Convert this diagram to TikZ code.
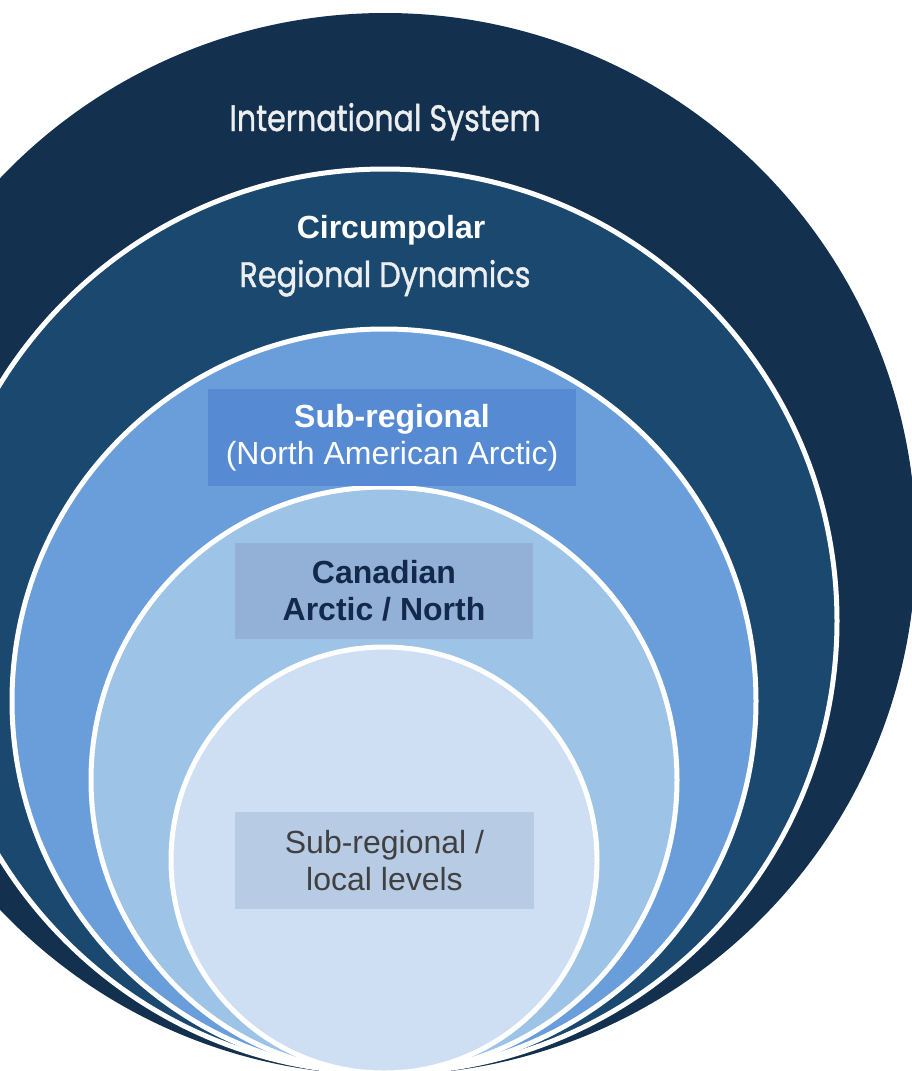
\documentclass[tikz,border=0pt]{standalone}
\usepackage{fontspec}
\setmainfont{Liberation Sans}
\newfontfamily\geo[FakeBold=1.2]{Poppins}
\usepackage{graphicx}
\definecolor{cA}{RGB}{19,48,78}
\definecolor{cB}{RGB}{26,72,110}
\definecolor{cC}{RGB}{106,158,219}
\definecolor{cD}{RGB}{157,195,230}
\definecolor{cE}{RGB}{207,223,243}
\definecolor{boxB}{RGB}{86,139,212}
\definecolor{boxC}{RGB}{147,177,214}
\definecolor{boxD}{RGB}{183,204,228}
\definecolor{txtC}{RGB}{19,41,75}
\definecolor{txtD}{RGB}{64,64,64}
\definecolor{geotxt}{RGB}{236,238,240}
\tikzset{
  ring/.style={draw=white, line width=5pt},
  labelbox/.style={rectangle, inner sep=0pt, align=center, font=\fontsize{32}{37}\selectfont},
  geolabel/.style={inner sep=0pt, text=geotxt, anchor=base},
}
\begin{document}
\begin{tikzpicture}[x=1pt,y=-1pt]
\useasboundingbox (0,0) rectangle (912,1071);
\clip (0,0) rectangle (912,1071);
\fill[cA] (385,544) circle[radius=531pt];
\filldraw[ring, fill=cB] (385,621) circle[radius=452pt];
\filldraw[ring, fill=cC] (384,701) circle[radius=372pt];
\filldraw[ring, fill=cD] (384,780) circle[radius=293pt];
\filldraw[ring, fill=cE] (384,860) circle[radius=213pt];
\node[geolabel] (intl) at (385,131) {\resizebox{311pt}{28pt}{\geo International System}};
\node[inner sep=0pt, text=white, font=\bfseries\fontsize{32}{37}\selectfont, anchor=base] (circ) at (391,238) {Circumpolar};
\node[geolabel] (regdyn) at (385,287) {\resizebox{291pt}{27pt}{\geo Regional Dynamics}};
\node[labelbox, fill=boxB, text=white, minimum width=368pt, minimum height=97pt] (subreg) at (392,437.5) {\textbf{Sub-regional}\\(North American Arctic)};
\node[labelbox, fill=boxC, text=txtC, font=\bfseries\fontsize{32}{37}\selectfont, minimum width=298pt, minimum height=96pt] (canada) at (384,591) {Canadian\\Arctic / North};
\node[labelbox, fill=boxD, text=txtD, minimum width=299pt, minimum height=97pt] (local) at (384.5,860.5) {Sub-regional /\\local levels};
\end{tikzpicture}
\end{document}
